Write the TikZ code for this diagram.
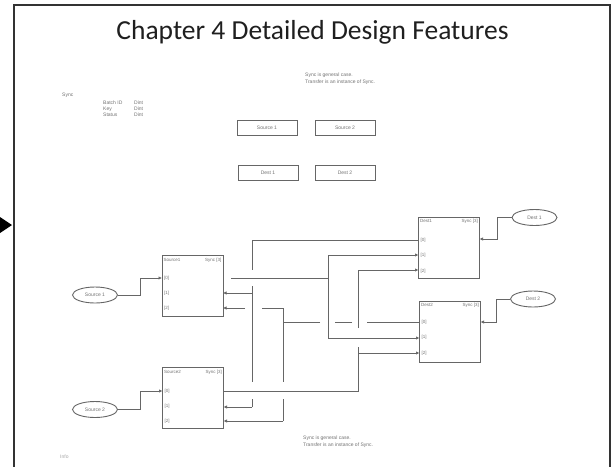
\documentclass[tikz,border=0pt]{standalone}
\usepackage{fontspec}
\setmainfont{Liberation Sans}
\newfontfamily\titlefont{Carlito}
\usetikzlibrary{arrows.meta,shapes.geometric}
\begin{document}
\begin{tikzpicture}[x=1pt,y=-1pt,
  wire/.style={draw=black!60, line width=0.9pt},
  arr/.style={-{Latex[length=3.5pt,width=3.5pt]}},
  blk/.style={draw=black!60, line width=1pt, minimum width=61pt, minimum height=61pt, inner sep=0pt},
  tiny/.style={font=\fontsize{4.5}{5}\selectfont, text=black!55, inner sep=0pt},
  lbl/.style={font=\fontsize{5}{7}\selectfont, text=black!55, inner sep=0pt, anchor=west, align=left},
  topbox/.style={draw=black!60, line width=1pt, minimum width=60pt, minimum height=15pt, font=\fontsize{5}{6}\selectfont, text=black!55, inner sep=0pt},
  oval/.style={ellipse, draw=black!60, line width=0.9pt, minimum width=45pt, minimum height=16pt, inner sep=0pt, font=\fontsize{5}{6}\selectfont, text=black!55},
  frame/.style={draw=black!80, line width=1.6pt}
]
\useasboundingbox (0,0) rectangle (612,466);
\fill[white] (0,0) rectangle (612,466);
% frame and pointer
\draw[frame] (14,467) -- (14,5) -- (610,5) -- (610,467);
\fill[black] (0,217) -- (12,225) -- (0,233) -- cycle;
% title
\node[font=\titlefont\fontsize{27.5}{32}\selectfont, text=black!88, inner sep=0pt] (title) at (312.5,32) {Chapter 4 Detailed Design Features};
% notes
\node[lbl] (note1) at (305,78.5) {Sync is general case.\\Transfer is an instance of Sync.};
\node[lbl] (note2) at (303,441.5) {Sync is general case.\\Transfer is an instance of Sync.};
\node[lbl] (sync) at (62,95) {Sync};
\node[lbl] (f1) at (103,103) {Batch ID};
\node[lbl] (f2) at (103,109) {Key};
\node[lbl] (f3) at (103,115) {Status};
\node[lbl] (t1) at (134,103) {Dint};
\node[lbl] (t2) at (134,109) {Dint};
\node[lbl] (t3) at (134,115) {Dint};
\node[lbl, text=black!35] (info) at (60,457) {Info};
% top boxes
\node[topbox] (bs1) at (267,127.5) {Source 1};
\node[topbox] (bs2) at (345,127.5) {Source 2};
\node[topbox] (bd1) at (268,173) {Dest 1};
\node[topbox] (bd2) at (345,173) {Dest 2};
% ellipses
\node[oval] (E1) at (95,295) {Source 1};
\node[oval] (E2) at (95,409.5) {Source 2};
\node[oval] (D1e) at (534.5,217.5) {Dest 1};
\node[oval] (D2e) at (533,299) {Dest 2};
% blocks
\node[blk] (S1) at (192.5,286) {};
\node[blk] (S2) at (193,398) {};
\node[blk] (D1) at (449,247.5) {};
\node[blk] (D2) at (450,331.5) {};
\foreach \b/\n in {S1/Source1,S2/Source2,D1/Dest1,D2/Dest2}{
  \node[tiny, anchor=north west] (\b t) at ([xshift=2pt,yshift=-3pt]\b.north west) {\n};
  \node[tiny, anchor=north east] (\b s) at ([xshift=-2pt,yshift=-3pt]\b.north east) {Sync [3]};
}
% ports
\coordinate (s1i0) at (162,278);
\coordinate (s1o) at (223,278);
\coordinate (s1r1) at (223,293);
\coordinate (s1r2) at (223,308);
\coordinate (s2i0) at (162.5,391);
\coordinate (s2o) at (223.5,391);
\coordinate (s2r1) at (223.5,407);
\coordinate (s2r2) at (223.5,421);
\coordinate (d1p0) at (418.5,240);
\coordinate (d1p1) at (418.5,255);
\coordinate (d1p2) at (418.5,270);
\coordinate (d1o) at (479.5,239);
\coordinate (d2p0) at (419.5,322);
\coordinate (d2p1) at (419.5,338);
\coordinate (d2p2) at (419.5,353);
\coordinate (d2o) at (480.5,322);
\foreach \p/\t in {s1i0/[0],s2i0/[0],d1p0/[0],d2p0/[0]}{
  \node[tiny, anchor=west] at ([xshift=2pt]\p) {\t};
}
\foreach \p/\t in {s1i0/{[1]},s2i0/{[1]}}{
  \node[tiny, anchor=west] at ([xshift=2pt,yshift=-15.5pt]\p) {\t};
  \node[tiny, anchor=west] at ([xshift=2pt,yshift=-30.5pt]\p) {[2]};
}
\foreach \p in {d1p0,d2p0}{
  \node[tiny, anchor=west] at ([xshift=2pt,yshift=-15.5pt]\p) {[1]};
  \node[tiny, anchor=west] at ([xshift=2pt,yshift=-31pt]\p) {[2]};
}
% ellipse connectors
\draw[wire,arr] (E1.east) -- (140,295) |- (s1i0);
\draw[wire,arr] (E2.east) -- (140,409.5) |- (s2i0);
\draw[wire,arr] (D1e.west) -- (497,217.5) |- (d1o);
\draw[wire,arr] (D2e.west) -- (496,299) |- (d2o);
% Dest1 [0] fan-out
\draw[wire] (d1p0) -- (252,240) -- (252,270) (252,286) -- (252,382) (252,399) -- (252,407);
\draw[wire,arr] (252,407) -- (s2r1);
\draw[wire,arr] (252,293) -- (s1r1);
% Source1 output
\draw[wire] ([xshift=8pt]s1o) -- (328,278);
\draw[wire] (328,255) -- (328,338);
\draw[wire,arr] (328,255) -- (d1p1);
\draw[wire,arr] (328,338) -- (d2p1);
% Source2 output
\draw[wire] (s2o) -- (358,391) -- (358,347);
\draw[wire] (358,328) -- (358,270);
\draw[wire,arr] (358,270) -- (d1p2);
\draw[wire,arr] (358,353) -- (d2p2);
% Dest2 [0] fan-out
\draw[wire] (d2p0) -- (367,322) (352,322) -- (335,322) (320,322) -- (283,322);
\draw[wire] (283,308) -- (283,382) (283,399) -- (283,421);
\draw[wire] (283,308) -- (262,308);
\draw[wire,arr] (245,308) -- (s1r2);
\draw[wire,arr] (283,421) -- (s2r2);
\end{tikzpicture}
\end{document}
